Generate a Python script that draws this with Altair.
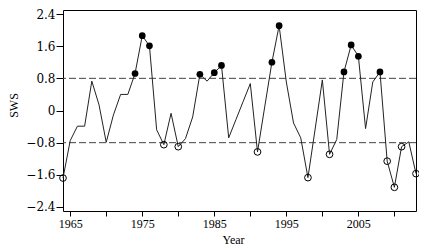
import altair as alt
import pandas as pd

years = list(range(1964, 2014))
sws = [-1.68, -0.75, -0.39, -0.39, 0.73, 0.14, -0.79, -0.11, 0.40, 0.40,
       0.92, 1.86, 1.61, -0.48, -0.85, -0.07, -0.90, -0.70, -0.16, 0.90,
       0.73, 0.94, 1.12, -0.68, -0.23, 0.22, 0.67, -1.03, 0.09, 1.20,
       2.11, 0.71, -0.31, -0.68, -1.67, -0.46, 0.76, -1.09, -0.72, 0.96,
       1.63, 1.35, -0.45, 0.71, 0.96, -1.26, -1.91, -0.90, -0.78, -1.57]
thresholds = [0.8, -0.8]
y_ticks = [-2.4, -1.6, -0.8, 0, 0.8, 1.6, 2.4]
x_ticks = list(range(1965, 2011, 5))

df = pd.DataFrame({"Year": years, "SWS": sws})
tdf = pd.DataFrame({"t": thresholds})

xaxis = alt.Axis(values=x_ticks, labelExpr="(datum.value - 1965) % 10 == 0 ? format(datum.value, 'd') : ''",
                 grid=False, domain=False, tickColor="black", tickSize=5, labelPadding=2,
                 labelFont="Liberation Serif", labelFontSize=12, labelColor="black",
                 title="Year", titleFont="Liberation Serif", titleFontSize=12, titleFontWeight="normal",
                 titleColor="black", titleX=170, titleY=32, titleBaseline="alphabetic", titleAlign="center")
yaxis = alt.Axis(values=y_ticks, labelExpr="datum.value == 0 ? '0' : format(datum.value, '.1f')",
                 grid=False, domain=False, tickColor="black", tickSize=7, labelPadding=1,
                 labelFont="DejaVu Serif", labelFontSize=12, labelColor="black",
                 title="SWS", titleFont="Liberation Serif", titleFontSize=12, titleFontWeight="normal",
                 titleColor="black", titleX=-46, titleY=95, titleBaseline="alphabetic", titleAlign="center")

xs = alt.Scale(domain=[1964, 2013], nice=False, zero=False)
ys = alt.Scale(domain=[-2.5, 2.5], nice=False, zero=False)

X = alt.X("Year:Q", scale=xs, axis=xaxis)
Y = alt.Y("SWS:Q", scale=ys, axis=yaxis)

rules = alt.Chart(tdf).mark_rule(strokeDash=[7, 3], color="#444444", strokeWidth=1).encode(
    y=alt.Y("t:Q", scale=ys, axis=yaxis))
line = alt.Chart(df).mark_line(color="#222222", strokeWidth=1).encode(x=X, y=Y)
hi = alt.Chart(df).transform_filter("datum.SWS > 0.8").mark_circle(
    size=45, color="black", opacity=1).encode(x=X, y=Y)
lo = alt.Chart(df).transform_filter("datum.SWS < -0.8").mark_point(
    shape="circle", size=45, color="black", filled=False, strokeWidth=1, opacity=1).encode(x=X, y=Y)

chart = alt.layer(rules, line, hi, lo).properties(
    width=353, height=201, autosize="none", background="white",
    padding={"left": 55, "top": 2, "right": 3, "bottom": 38},
).configure_view(stroke="black", strokeWidth=1)

chart.save("out.html", embed_options={"renderer": "svg", "actions": False})
